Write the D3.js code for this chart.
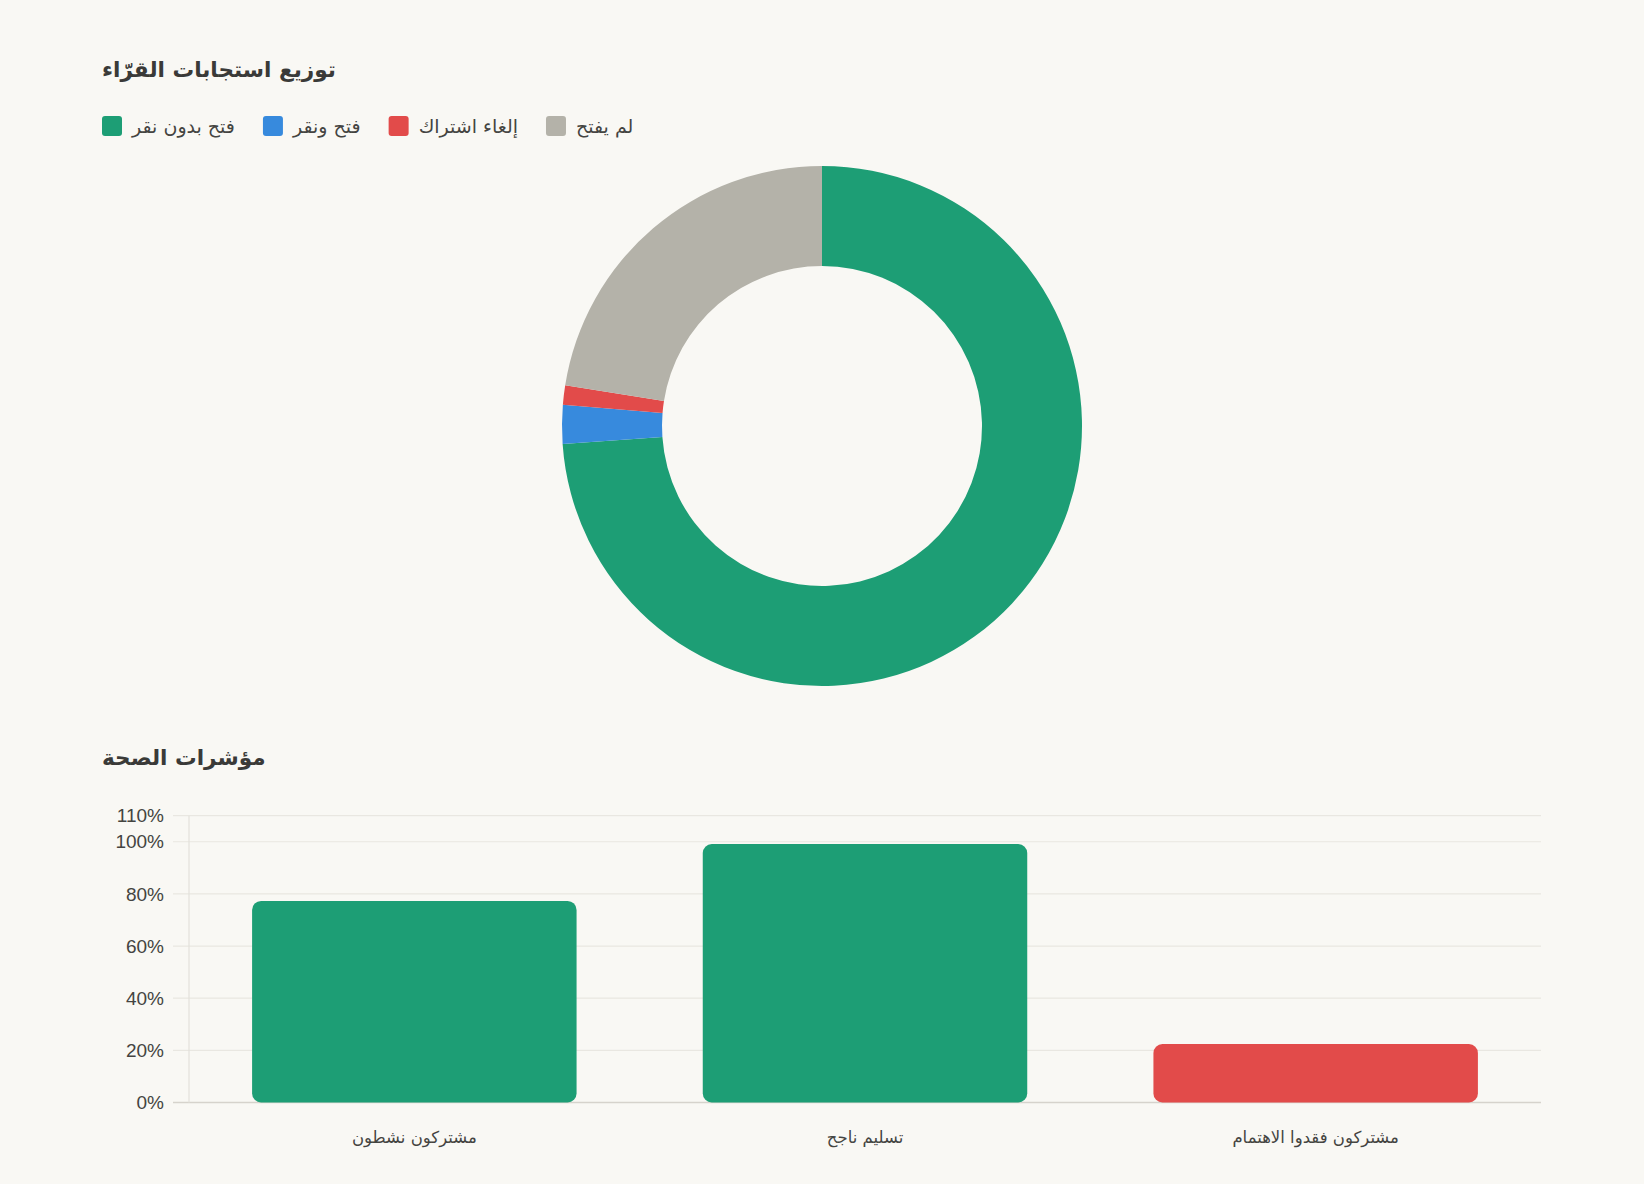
<!DOCTYPE html>
<html lang="ar">
<head>
<meta charset="utf-8">
<script src="https://cdn.jsdelivr.net/npm/d3@7/dist/d3.min.js"></script>
<style>
  html, body { margin: 0; padding: 0; background: #f9f8f4; }
  svg { display: block; }
</style>
</head>
<body>
<svg id="chart"></svg>
<script>
// reader responses (percent of sends)
const responseLabels = ["فتح بدون نقر", "فتح ونقر", "إلغاء اشتراك", "لم يفتح"];
const responseValues = [73.9, 2.4, 1.2, 22.5];
const responseColors = ["#1d9e75", "#378add", "#e24b4a", "#b4b2a9"];

// health indicators
const healthLabels = ["مشتركون نشطون", "تسليم ناجح", "مشتركون فقدوا الاهتمام"];
const healthValues = [77.3, 99.1, 22.4];
const healthColors = ["#1d9e75", "#1d9e75", "#e24b4a"];
const yTicks = [0, 20, 40, 60, 80, 100, 110];

const W = 1644, H = 1184;
const arabicFont = "'DejaVu Sans', 'Noto Sans', sans-serif";
const latinFont = "'Liberation Sans', Arial, sans-serif";

const svg = d3.select("#chart").attr("width", W).attr("height", H);

svg.append("rect").attr("width", W).attr("height", H).attr("fill", "#f9f8f4");

// ---- donut section ----
svg.append("text")
  .attr("x", 102).attr("y", 77)
  .attr("font-family", arabicFont)
  .attr("font-size", 21.6)
  .attr("font-weight", "bold")
  .attr("fill", "#3a3a38")
  .text("توزيع استجابات القرّاء");

const legend = svg.append("g").attr("transform", "translate(102, 116)");
let lx = 0;
responseLabels.forEach((lab, i) => {
  const item = legend.append("g").attr("transform", `translate(${lx}, 0)`);
  item.append("rect")
    .attr("width", 20).attr("height", 20).attr("rx", 3)
    .attr("fill", responseColors[i]);
  const t = item.append("text")
    .attr("x", 30).attr("y", 17)
    .attr("font-family", arabicFont)
    .attr("font-size", 19)
    .attr("fill", "#444441")
    .text(lab);
  lx += 30 + t.node().getComputedTextLength() + 28;
});

const cx = 822, cy = 426, outerR = 260, innerR = 160;

const pie = d3.pie().sort(null).value(d => d);
const arc = d3.arc().innerRadius(innerR).outerRadius(outerR);

svg.append("g")
  .attr("transform", `translate(${cx}, ${cy})`)
  .selectAll("path")
  .data(pie(responseValues))
  .join("path")
  .attr("d", arc)
  .attr("fill", (d, i) => responseColors[i]);

// ---- bar section ----
svg.append("text")
  .attr("x", 102).attr("y", 765)
  .attr("font-family", arabicFont)
  .attr("font-size", 21.6)
  .attr("font-weight", "bold")
  .attr("fill", "#3a3a38")
  .text("مؤشرات الصحة");

const plot = { left: 189, right: 1541, top: 815.7, bottom: 1102.5 };

const x = d3.scaleBand()
  .domain(healthLabels)
  .range([plot.left, plot.right])
  .paddingInner(0.28)
  .paddingOuter(0.14);

const y = d3.scaleLinear()
  .domain([0, 110])
  .range([plot.bottom, plot.top]);

const g = svg.append("g");

// gridlines + ticks
g.selectAll("line.grid")
  .data(yTicks)
  .join("line")
  .attr("class", "grid")
  .attr("x1", plot.left - 16).attr("x2", plot.right)
  .attr("y1", d => y(d)).attr("y2", d => y(d))
  .attr("stroke", d => d === 0 ? "#d6d3cc" : "#e9e7e1")
  .attr("stroke-width", d => d === 0 ? 1.5 : 1.2);

g.append("line")
  .attr("x1", plot.left).attr("x2", plot.left)
  .attr("y1", plot.top).attr("y2", plot.bottom)
  .attr("stroke", "#e3e1db").attr("stroke-width", 1.2);

const yAxis = d3.axisLeft(y)
  .tickValues(yTicks)
  .tickFormat(d => d + "%")
  .tickSize(0)
  .tickPadding(25);

g.append("g")
  .attr("transform", `translate(${plot.left}, 0)`)
  .call(yAxis)
  .call(a => a.select(".domain").remove())
  .call(a => a.selectAll("text")
    .attr("font-family", latinFont)
    .attr("font-size", 19)
    .attr("fill", "#444441"));

// bars with all corners rounded
g.selectAll("rect.bar")
  .data(healthValues)
  .join("rect")
  .attr("class", "bar")
  .attr("x", (d, i) => x(healthLabels[i]))
  .attr("width", x.bandwidth())
  .attr("y", d => y(d))
  .attr("height", d => y(0) - y(d))
  .attr("rx", 9)
  .attr("fill", (d, i) => healthColors[i]);

const xAxis = d3.axisBottom(x).tickSize(0).tickPadding(29);

g.append("g")
  .attr("transform", `translate(0, ${plot.bottom})`)
  .call(xAxis)
  .call(a => a.select(".domain").remove())
  .call(a => a.selectAll("text")
    .attr("font-family", arabicFont)
    .attr("font-size", 16.5)
    .attr("fill", "#444441"));
</script>
</body>
</html>
